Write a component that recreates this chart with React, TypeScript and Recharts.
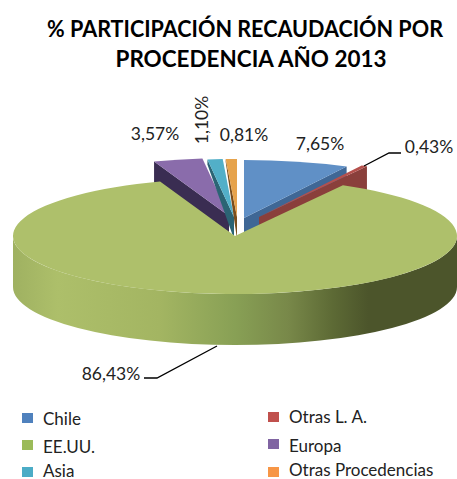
import React from "react";
import { PieChart, Pie } from "recharts";

const categories = ["Chile", "Otras L. A.", "EE.UU.", "Europa", "Asia", "Otras Procedencias"];
const shares = [7.65, 0.43, 86.43, 3.57, 1.1, 0.81];

const chartData = categories.map((name, i) => ({ name, value: shares[i] }));

const FONT = "Lato, Carlito, sans-serif";
const CX = 235;
const CY = 236;
const RX = 222;
const RY = 58;
const DEPTH = 51;

// slice look, keyed by category
const topColors: Record<string, string> = {
  Chile: "#6090c6",
  "Otras L. A.": "#b5504c",
  "EE.UU.": "#aec06b",
  Europa: "#8a6cab",
  Asia: "#52afc8",
  "Otras Procedencias": "#e6a34c",
};
const wallColors: Record<string, string> = {
  Chile: "#3f6795",
  "Otras L. A.": "#8a3f3b",
  "EE.UU.": "url(#greenWall)",
  Europa: "#3a2d52",
  Asia: "#2b6474",
  "Otras Procedencias": "#7a4e1c",
};
const legendColors = ["#4f81bd", "#c0504d", "#9bbb59", "#8064a2", "#4bacc6", "#f79646"];

// how far each exploded slice sits from the pie centre
const explode: Record<string, [number, number]> = {
  Chile: [9, -18],
  "Otras L. A.": [24, -19],
  "EE.UU.": [0, 0],
  Europa: [-6, -20],
  Asia: [-1, -19],
  "Otras Procedencias": [2, -19],
};

// wall height at the rim and at the apex, the far slices look thinner
const wallDepth: Record<string, [number, number]> = {
  Chile: [DEPTH, DEPTH],
  "Otras L. A.": [DEPTH, DEPTH],
  "EE.UU.": [DEPTH, DEPTH],
  Europa: [DEPTH, DEPTH],
  Asia: [5, 22],
  "Otras Procedencias": [3, 22],
};

const labelSpots: Record<string, { x: number; y: number; rotate?: boolean }> = {
  Chile: { x: 320, y: 150 },
  "Otras L. A.": { x: 429, y: 153 },
  "EE.UU.": { x: 111, y: 380 },
  Europa: { x: 155, y: 140 },
  Asia: { x: 208, y: 120, rotate: true },
  "Otras Procedencias": { x: 244, y: 141 },
};

const leaderLines: Record<string, string> = {
  "Otras L. A.": "M364 166 L389 153 L401 153",
  "EE.UU.": "M217 346 L157 378 L144 378",
};

const pt = (x: number, y: number, deg: number) => {
  const a = (deg * Math.PI) / 180;
  return [x + RX * Math.cos(a), y - RY * Math.sin(a)];
};

// a radial edge only shows a wall when it faces the viewer
const facesFront = (normalDeg: number) => Math.sin((normalDeg * Math.PI) / 180) < -0.001;

function Slice3D(props: any) {
  const { startAngle, endAngle, name } = props;
  const [dx, dy] = explode[name];
  const [rimD, apexD] = wallDepth[name];
  const x = CX + dx;
  const y = CY + dy;
  const [sx, sy] = pt(x, y, startAngle);
  const [ex, ey] = pt(x, y, endAngle);
  const large = Math.abs(startAngle - endAngle) > 180 ? 1 : 0;
  const wall = wallColors[name];

  // only the front half of the rim can be seen
  const hi = Math.min(startAngle, 0);
  const lo = Math.max(endAngle, -180);
  let rim = null;
  if (hi > lo) {
    const [ax, ay] = pt(x, y, hi);
    const [bx, by] = pt(x, y, lo);
    rim = (
      <path
        d={`M${ax} ${ay} A${RX} ${RY} 0 0 1 ${bx} ${by} L${bx} ${by + DEPTH} A${RX} ${RY} 0 0 0 ${ax} ${ay + DEPTH} Z`}
        fill={wall}
      />
    );
  }

  return (
    <g>
      {facesFront(startAngle + 90) && (
        <path d={`M${x} ${y} L${sx} ${sy} L${sx} ${sy + rimD} L${x} ${y + apexD} Z`} fill={wall} />
      )}
      {facesFront(endAngle - 90) && (
        <path d={`M${x} ${y} L${ex} ${ey} L${ex} ${ey + rimD} L${x} ${y + apexD} Z`} fill={wall} />
      )}
      {rim}
      <path
        d={`M${x} ${y} L${sx} ${sy} A${RX} ${RY} 0 ${large} 1 ${ex} ${ey} Z`}
        fill={topColors[name]}
      />
    </g>
  );
}

const backShape = (props: any) => (props.name === "EE.UU." ? <g /> : <Slice3D {...props} />);
const frontShape = (props: any) => (props.name === "EE.UU." ? <Slice3D {...props} /> : <g />);

function renderLabel(props: any) {
  const { name, value } = props;
  const spot = labelSpots[name];
  const text = value.toFixed(2).replace(".", ",") + "%";
  return (
    <g key={name}>
      {leaderLines[name] && <path d={leaderLines[name]} fill="none" stroke="#000" strokeWidth={1.3} />}
      <text
        x={spot.x}
        y={spot.y}
        textAnchor="middle"
        fontFamily={FONT}
        fontSize={17.5}
        fill="#222"
        transform={spot.rotate ? `rotate(-90 ${spot.x} ${spot.y})` : undefined}
      >
        {text}
      </text>
    </g>
  );
}

const legendSpots = [
  { x: 22, y: 413, tx: 43, ty: 425 },
  { x: 268, y: 412, tx: 289, ty: 423 },
  { x: 22, y: 440, tx: 43, ty: 453 },
  { x: 268, y: 439, tx: 289, ty: 452 },
  { x: 22, y: 467, tx: 43, ty: 477 },
  { x: 268, y: 467, tx: 289, ty: 476 },
];

export default function App() {
  return (
    <div style={{ position: "absolute", left: 0, top: 0, width: 457, height: 479, overflow: "hidden", background: "#fff" }}>
      <PieChart width={457} height={479} margin={{ top: 0, right: 0, bottom: 0, left: 0 }}>
        <defs>
          <linearGradient id="greenWall" gradientUnits="userSpaceOnUse" x1={13} y1={0} x2={457} y2={0}>
            <stop offset="0" stopColor="#9fb161" />
            <stop offset="0.1" stopColor="#adbf6a" />
            <stop offset="0.33" stopColor="#a3b562" />
            <stop offset="0.5" stopColor="#88a055" />
            <stop offset="0.62" stopColor="#788849" />
            <stop offset="0.72" stopColor="#5d6a35" />
            <stop offset="0.8" stopColor="#4c552b" />
            <stop offset="1" stopColor="#4c552b" />
          </linearGradient>
        </defs>
        <text x={245} y={37} textAnchor="middle" fontFamily={FONT} fontWeight={700} fontSize={22} textLength={396} lengthAdjust="spacingAndGlyphs" fill="#000">
          % PARTICIPACIÓN RECAUDACIÓN POR
        </text>
        <text x={251} y={67} textAnchor="middle" fontFamily={FONT} fontWeight={700} fontSize={22} textLength={271} lengthAdjust="spacingAndGlyphs" fill="#000">
          PROCEDENCIA AÑO 2013
        </text>
        <Pie
          data={chartData}
          dataKey="value"
          nameKey="name"
          cx={CX}
          cy={CY}
          outerRadius={RX}
          startAngle={90}
          endAngle={-270}
          stroke="none"
          shape={backShape}
          isAnimationActive={false}
        />
        <Pie
          data={chartData}
          dataKey="value"
          nameKey="name"
          cx={CX}
          cy={CY}
          outerRadius={RX}
          startAngle={90}
          endAngle={-270}
          stroke="none"
          shape={frontShape}
          label={renderLabel}
          labelLine={false}
          isAnimationActive={false}
        />
        {categories.map((name, i) => (
          <g key={name}>
            <rect x={legendSpots[i].x} y={legendSpots[i].y} width={11} height={10} fill={legendColors[i]} />
            <text x={legendSpots[i].tx} y={legendSpots[i].ty} fontFamily={FONT} fontSize={17} fill="#222">
              {name}
            </text>
          </g>
        ))}
      </PieChart>
    </div>
  );
}
